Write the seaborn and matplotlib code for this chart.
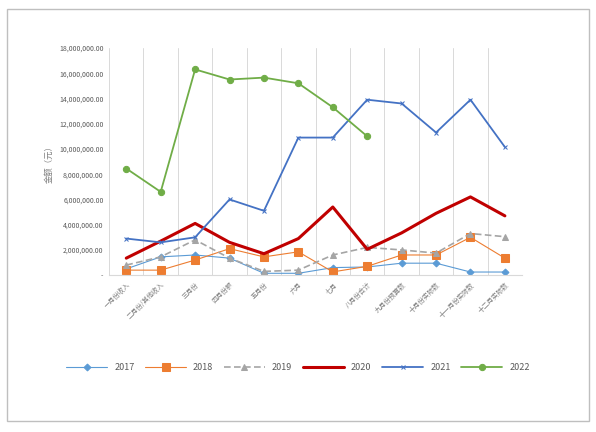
import numpy as np
import pandas as pd
import seaborn as sns
import matplotlib.pyplot as plt
from matplotlib.patches import Rectangle
from matplotlib.ticker import FuncFormatter, FixedLocator

# categories (labels unreadable in source, best guess)
categories = ["一月份收入", "二月份/其他收入", "三月份", "四月份额", "五月份", "六月",
              "七月", "八月份合计", "九月份预算数", "十月份实际数", "十一月份实际数", "十二月实际数"]

v2017 = [500000, 1450000, 1600000, 1350000, 150000, 150000, 600000, 650000, 950000, 950000, 250000, 250000]
v2018 = [400000, 400000, 1200000, 2100000, 1450000, 1850000, 260000, 700000, 1600000, 1600000, 3000000, 1350000]
v2019 = [800000, 1450000, 2800000, 1350000, 300000, 400000, 1600000, 2200000, 2000000, 1750000, 3300000, 3050000]
v2020 = [1350000, 2700000, 4100000, 2600000, 1700000, 2900000, 5400000, 2050000, 3350000, 4900000, 6200000, 4700000]
v2021 = [2900000, 2600000, 3000000, 6000000, 5100000, 10900000, 10900000, 13900000, 13600000, 11300000, 13900000, 10150000]
v2022 = [8450000, 6600000, 16300000, 15500000, 15650000, 15200000, 13300000, 11000000]

series = [("2017", v2017), ("2018", v2018), ("2019", v2019),
          ("2020", v2020), ("2021", v2021), ("2022", v2022)]

styles = {
    "2017": dict(color="#5B9BD5", lw=0.8, marker="D", ms=3.5, ls="-"),
    "2018": dict(color="#ED7D31", lw=0.8, marker="s", ms=5.5, ls="-"),
    "2019": dict(color="#A5A5A5", lw=1.2, marker="^", ms=5, ls=(0, (4, 2))),
    "2020": dict(color="#C00000", lw=2.2, marker=None, ms=0, ls="-"),
    "2021": dict(color="#4472C4", lw=1.3, marker="x", ms=3.5, ls="-"),
    "2022": dict(color="#70AD47", lw=1.3, marker="o", ms=4.5, ls="-"),
}

sns.set_style("white")
plt.rcParams['font.family'] = ['Noto Sans CJK SC', 'DejaVu Sans']

fig = plt.figure(figsize=(5.96, 4.32), dpi=100)
ax = fig.add_axes([0.183, 0.363, 0.693, 0.526])

for name, vals in series:
    st = styles[name]
    xs = np.arange(len(vals))
    sns.lineplot(x=xs, y=vals, ax=ax, color=st["color"], linewidth=st["lw"],
                 linestyle=st["ls"], marker=st["marker"], markersize=st["ms"],
                 markeredgecolor=st["color"], label=name, estimator=None)

ax.set_xlim(-0.5, len(categories) - 0.5)
ax.set_ylim(0, 18000000)
ax.set_yticks(np.arange(0, 18000001, 2000000))
ax.yaxis.set_major_formatter(FuncFormatter(lambda v, _: "-" if v == 0 else f"{v:,.2f}"))
ax.set_xticks(np.arange(len(categories)))
ax.set_xticklabels(categories, rotation=45, ha="right", rotation_mode="anchor")
ax.xaxis.set_minor_locator(FixedLocator(np.arange(-0.5, len(categories), 1)))
ax.grid(which="minor", axis="x", color="#D9D9D9", lw=0.7)
ax.grid(which="major", axis="both", visible=False)
ax.tick_params(axis="y", which="both", length=0, labelsize=5, labelcolor="#595959", pad=4)
ax.tick_params(axis="x", which="both", length=0, labelsize=4.8, labelcolor="#7F7F7F", pad=4)
for s in ["top", "right", "left"]:
    ax.spines[s].set_visible(False)
ax.spines["bottom"].set_color("#D9D9D9")
ax.set_xlabel("")
ax.set_ylabel("金额（元）", fontsize=6, color="#7F7F7F", labelpad=4)

handles, labels = ax.get_legend_handles_labels()
ax.legend_.remove()
fig.legend(handles, labels, loc="center", bbox_to_anchor=(0.5, 0.15), ncol=6,
           frameon=False, fontsize=6.5, labelcolor="#595959", handlelength=4.5,
           columnspacing=1.2)

fig.patches.append(Rectangle((0.012, 0.025), 0.976, 0.955, transform=fig.transFigure,
                             fill=False, edgecolor="#BFBFBF", lw=1.0))

fig.savefig("out.png", dpi=100)
